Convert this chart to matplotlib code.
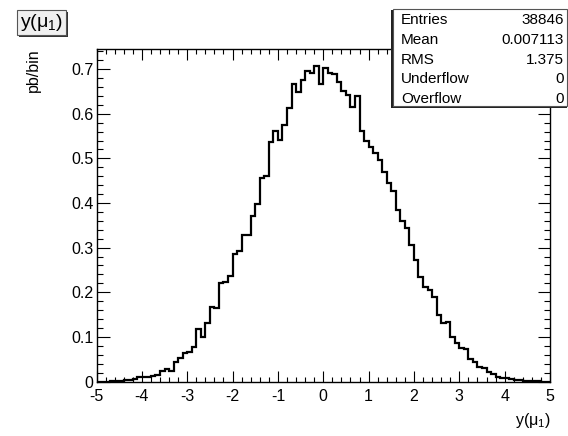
import numpy as np
import matplotlib
matplotlib.use("Agg")
import matplotlib.pyplot as plt
from matplotlib.patches import Rectangle
from matplotlib.ticker import MultipleLocator

plt.rcParams['font.family'] = ['Liberation Sans', 'DejaVu Sans']
plt.rcParams['mathtext.fontset'] = 'custom'
plt.rcParams['mathtext.rm'] = 'Liberation Sans'
plt.rcParams['mathtext.it'] = 'Liberation Sans'
plt.rcParams['axes.unicode_minus'] = False

# y(mu1) distribution, 100 bins from -5 to 5, in pb/bin
bin_lo, bin_hi, n_bins = -5.0, 5.0, 100
counts = [
    0.000, 0.000, 0.000, 0.0005, 0.001, 0.001, 0.003, 0.004, 0.006, 0.009,
    0.011, 0.011, 0.013, 0.014, 0.024, 0.028, 0.024, 0.044, 0.052, 0.063,
    0.067, 0.078, 0.118, 0.100, 0.132, 0.167, 0.165, 0.220, 0.224, 0.236,
    0.286, 0.293, 0.328, 0.328, 0.370, 0.397, 0.457, 0.461, 0.536, 0.562,
    0.541, 0.574, 0.614, 0.666, 0.648, 0.676, 0.696, 0.691, 0.708, 0.666,
    0.702, 0.691, 0.689, 0.672, 0.650, 0.641, 0.616, 0.639, 0.562, 0.540,
    0.525, 0.512, 0.497, 0.470, 0.444, 0.426, 0.385, 0.360, 0.345, 0.305,
    0.272, 0.235, 0.211, 0.205, 0.189, 0.149, 0.130, 0.133, 0.099, 0.087,
    0.074, 0.072, 0.050, 0.044, 0.033, 0.030, 0.022, 0.017, 0.009, 0.008,
    0.007, 0.006, 0.004, 0.004, 0.002, 0.002, 0.001, 0.0005, 0.000, 0.000,
]

stat_names = ["Entries", "Mean", "RMS", "Underflow", "Overflow"]
stat_values = ["38846", "0.007113", "1.375", "0", "0"]

W, H = 568, 436
fig = plt.figure(figsize=(W / 100, H / 100), dpi=100)


def fx(px):
    return px / W


def fy(py):
    return 1 - py / H


ax = fig.add_axes([fx(96.5), fy(381.5), fx(550) - fx(96.5), fy(49.5) - fy(381.5)])

edges = np.linspace(bin_lo, bin_hi, n_bins + 1)
ax.stairs(counts, edges, baseline=0, color="black", linewidth=1.6)

ax.set_xlim(bin_lo, bin_hi)
ax.set_ylim(0, 0.744)

ax.xaxis.set_major_locator(MultipleLocator(1))
ax.xaxis.set_minor_locator(MultipleLocator(0.2))
ax.yaxis.set_major_locator(MultipleLocator(0.1))
ax.yaxis.set_minor_locator(MultipleLocator(0.02))
ax.yaxis.set_major_formatter(plt.FuncFormatter(lambda v, p: "0" if abs(v) < 1e-9 else f"{v:.1f}"))

ax.tick_params(axis="both", which="both", direction="in", top=True, right=True,
               colors="black", labelsize=11.5)
ax.tick_params(axis="x", which="major", length=7.6, width=0.8, pad=5.5)
ax.tick_params(axis="x", which="minor", length=3.6, width=0.8)
ax.tick_params(axis="y", which="major", length=9, width=0.8, pad=2)
ax.tick_params(axis="y", which="minor", length=4.3, width=0.8)
for s in ax.spines.values():
    s.set_linewidth(1.0)
    s.set_color("black")

# axis titles, ROOT style: aligned to the far end of each axis
fig.text(fx(551), fy(420), r"y($\mu_{1}$)", ha="right", va="center", fontsize=11.5)
fig.text(fx(33), fy(48), "pb/bin", rotation=90, ha="center", va="top", fontsize=11.5)

# histogram title box with shadow
fig.add_artist(Rectangle((fx(19), fy(37)), fx(49), fy(12) - fy(37),
                         transform=fig.transFigure, facecolor="#333333", edgecolor="none"))
fig.add_artist(Rectangle((fx(17), fy(35)), fx(49), fy(10) - fy(35),
                         transform=fig.transFigure, facecolor="#f0f0f0",
                         edgecolor="#555555", linewidth=0.8))
fig.text(fx(41.5), fy(22.5), r"y($\mu_{1}$)", ha="center", va="center", fontsize=14)

# statistics box
fig.add_artist(Rectangle((fx(391), fy(108)), fx(176), fy(10) - fy(108),
                         transform=fig.transFigure, facecolor="#222222", edgecolor="none"))
fig.add_artist(Rectangle((fx(393), fy(106.5)), fx(174), fy(9) - fy(106.5),
                         transform=fig.transFigure, facecolor="white",
                         edgecolor="#555555", linewidth=0.8))
for i, (name, val) in enumerate(zip(stat_names, stat_values)):
    y = fy(20.5 + 19.6 * i)
    fig.text(fx(401), y, name, ha="left", va="center", fontsize=11)
    fig.text(fx(564), y, val, ha="right", va="center", fontsize=11)

fig.savefig("out.png", dpi=100)
